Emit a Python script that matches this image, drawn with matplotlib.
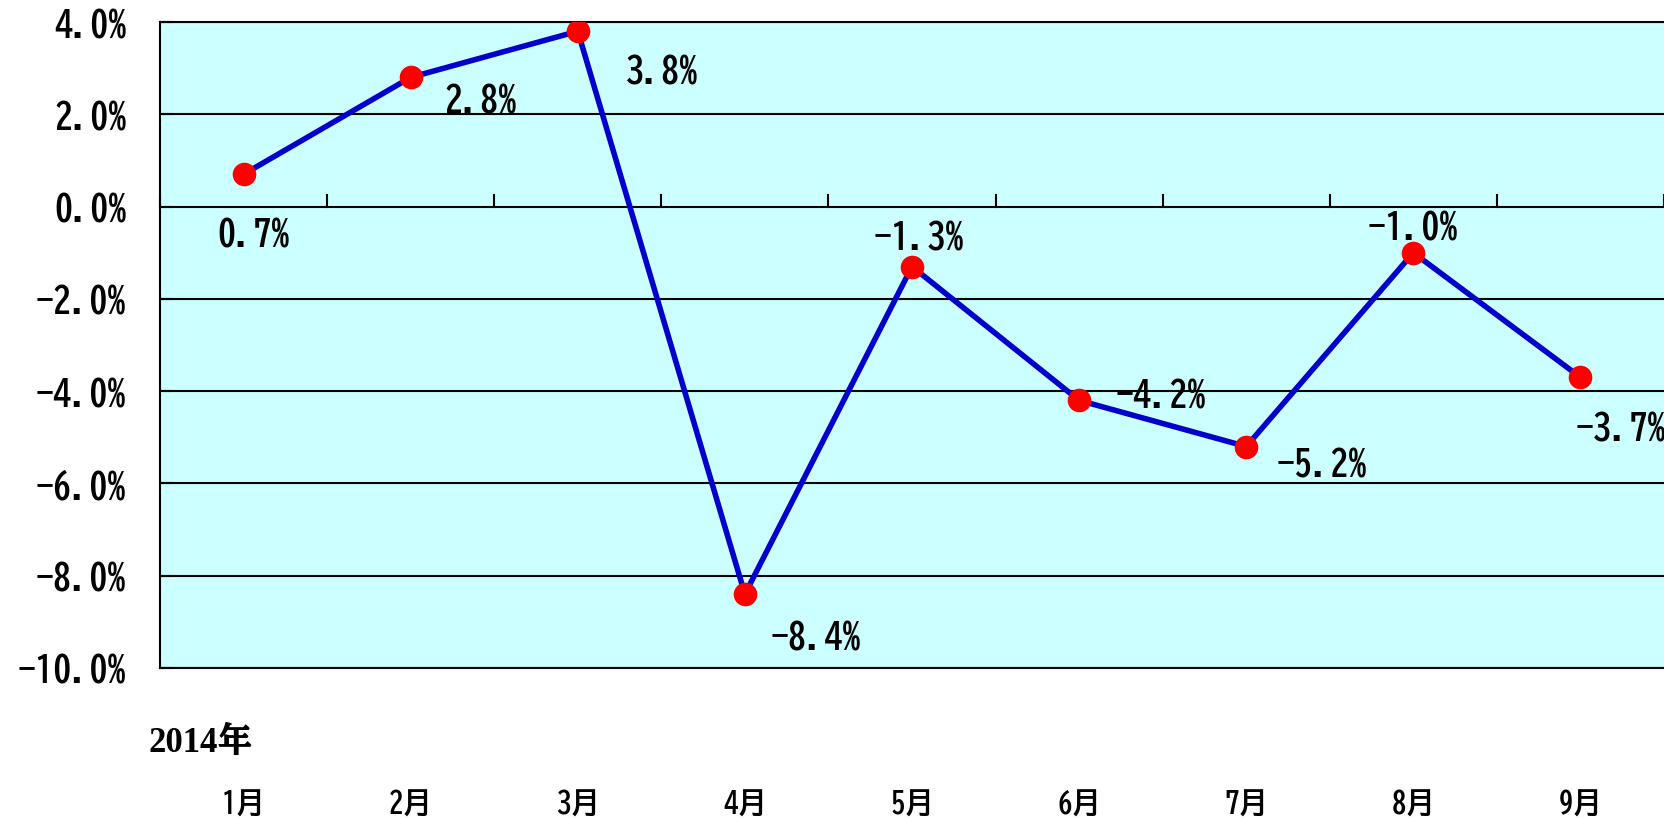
import matplotlib
matplotlib.use("Agg")
import matplotlib.pyplot as plt
import matplotlib.transforms as mtransforms
import numpy as np

months = ["1月", "2月", "3月", "4月", "5月", "6月", "7月", "8月", "9月"]
values = [0.7, 2.8, 3.8, -8.4, -1.3, -4.2, -5.2, -1.0, -3.7]
label_offsets = [(10, -59), (70, -22), (84, -39), (71, -42), (7, 30), (82, 6), (76, -17), (0, 26), (40, -50)]
yticks = [4, 2, 0, -2, -4, -6, -8, -10]
year_label = "2014年"

FAM = ["BIZ UDGothic", "Noto Sans CJK JP", "DejaVu Sans"]
plt.rcParams['font.family'] = FAM

fig = plt.figure(figsize=(16.65, 8.18), dpi=100)
W, H = 1665, 818
ax = fig.add_axes([160 / W, 1 - 668 / H, (1664 - 160) / W, (668 - 22) / H])
ax.set_facecolor("#CCFFFF")

n = len(months)
x = np.arange(n)
ax.set_xlim(-0.5, n - 0.5)
ax.set_ylim(-10, 4)

for yv in yticks:
    ax.axhline(yv, color="black", lw=1.5, zorder=1)

ax.plot(x, values, color="#0000CC", lw=4, zorder=3)
ax.plot(x, values, "o", color="red", markersize=17, zorder=4, markeredgewidth=0)

def fmt(v):
    s = f"{abs(v):.1f}%"
    return ("−" + s) if v < 0 else s

for xi, v, (dx, dy) in zip(x, values, label_offsets):
    ax.annotate(fmt(v), (xi, v), xytext=(dx, dy), textcoords="offset pixels",
                ha="center", va="center", fontsize=26, fontweight="bold", family=FAM, zorder=5)

# spines
ax.spines["right"].set_visible(False)
for s in ["left", "top", "bottom"]:
    ax.spines[s].set_linewidth(1.5)

# y axis ticks
ax.set_yticks(yticks)
ax.set_yticklabels([fmt(v) if v != 0 else "0.0%" for v in yticks], fontsize=26, fontweight="bold")
ax.tick_params(axis="y", direction="in", length=9, width=1.5, pad=24)

# x-axis at zero with upward ticks at category boundaries
ax.set_xticks([])
for b in np.arange(-0.5, n, 1.0):
    ax.plot([b, b], [0, 0.25], color="black", lw=1.5, zorder=2, clip_on=False)

trans = mtransforms.blended_transform_factory(ax.transData, fig.transFigure)
for xi, m in zip(x, months):
    ax.text(xi, 1 - 803 / H, m, transform=trans, ha="center", va="center",
            fontsize=21, fontweight="bold", family=FAM)

fig.text(201 / W, 1 - 743 / H, year_label, ha="center", va="center", fontsize=25,
         fontweight="bold", family=["Liberation Serif", "BIZ UDMincho", "Noto Sans CJK JP"])

fig.savefig("out.png", dpi=100)
